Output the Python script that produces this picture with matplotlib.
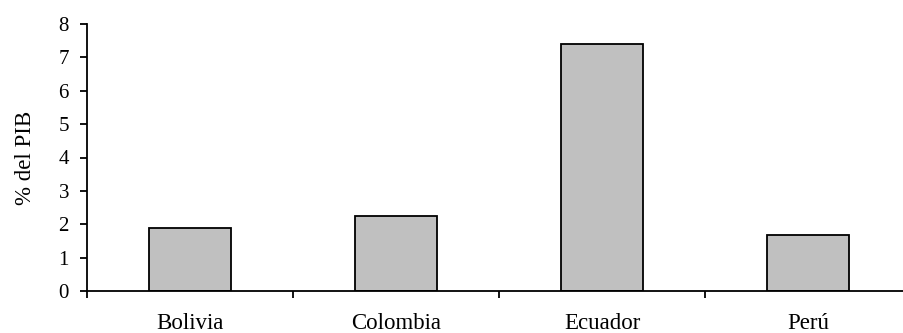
import numpy as np
import matplotlib.pyplot as plt

paises = ['Bolivia', 'Colombia', 'Ecuador', 'Perú']
pct_pib = [1.9, 2.25, 7.4, 1.67]

plt.rcParams['font.family'] = ['Liberation Serif', 'DejaVu Serif']

fig = plt.figure(figsize=(9.04, 3.33), dpi=100)
ax = fig.add_axes([87 / 904, 42 / 333, 824 / 904, 267 / 333])

x = np.arange(len(paises))
ax.bar(x, pct_pib, width=0.4, color='#c0c0c0', edgecolor='black', linewidth=1.3)

ax.set_xlim(-0.5, len(paises) - 0.5)
ax.set_ylim(0, 8)
ax.set_yticks(range(0, 9))

# category labels centred, tick marks on the boundaries
ax.set_xticks(x)
ax.set_xticklabels(paises, fontsize=16.5)
ax.tick_params(axis='x', which='major', length=0, pad=16)
ax.set_xticks(np.arange(-0.5, len(paises)), minor=True)
ax.tick_params(axis='x', which='minor', length=5, width=1.3, direction='out')

ax.tick_params(axis='y', labelsize=15, length=5, width=1.3, pad=8)
ax.set_ylabel('% del PIB', fontsize=16.5, labelpad=16)

for s in ['top', 'right']:
    ax.spines[s].set_visible(False)
for s in ['left', 'bottom']:
    ax.spines[s].set_linewidth(1.3)

fig.savefig('out.png', dpi=100)
